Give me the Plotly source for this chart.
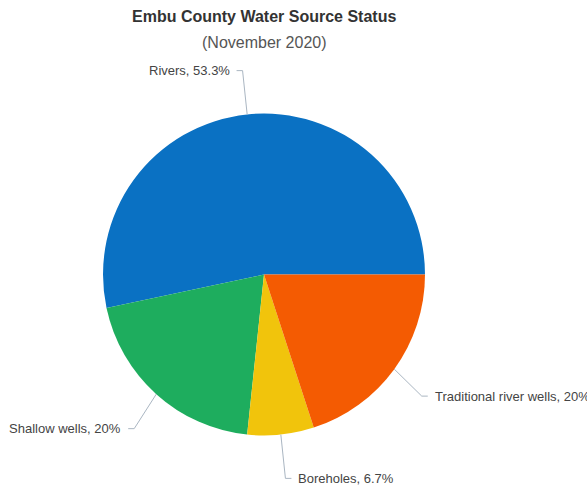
import math
import plotly.graph_objects as go

# ---- data ----
categories = ["Rivers", "Shallow wells", "Boreholes", "Traditional river wells"]
counts = [8, 3, 1, 3]
pct_labels = ["53.3%", "20%", "6.7%", "20%"]
colors = ["#0A71C3", "#1EAD5E", "#F1C40C", "#F45B02"]

title_text = "Embu County Water Source Status"
subtitle_text = "(November 2020)"

# ---- layout constants (pixels) ----
W, H = 587, 490
cx, cy, r = 264.0, 274.5, 161.0
bend_extra = [44.0, 33.0, 44.0, 34.0]   # radial distance of connector bend beyond rim
bend_dy = [0.0, 10.0, 0.0, 7.0]          # vertical nudge of label row
seg = 6.0
gap = 5.0
line_color = "#aab6c2"


def px(x):
    return x / W


def py(y):
    return 1 - y / H


total = sum(counts)
# first slice starts at 3 o'clock and runs counterclockwise;
# plotly's counterclockwise mode anchors the first slice's far edge at `rotation`
rotation = 90 - 360.0 * counts[0] / total

fig = go.Figure()
fig.add_trace(go.Pie(
    values=counts,
    labels=categories,
    sort=False,
    direction="counterclockwise",
    rotation=rotation,
    marker=dict(colors=colors, line=dict(width=0)),
    textinfo="none",
    hoverinfo="label+percent",
    showlegend=False,
    domain=dict(x=[px(cx - r), px(cx + r)], y=[py(cy + r), py(cy - r)]),
))

cum = 0.0
shapes = []
annotations = []
for cat, v, pl, be, dy in zip(categories, counts, pct_labels, bend_extra, bend_dy):
    mid = (cum + v / 2) / total * 2 * math.pi
    cum += v
    c, s = math.cos(mid), math.sin(mid)
    ex, ey = cx + r * c, cy - r * s
    bx, by = cx + (r + be) * c, cy - (r + be) * s + dy
    side = -1 if c < 0 else 1
    hx = bx + side * seg
    path = f"M {px(ex)} {py(ey)} L {px(bx)} {py(by)} L {px(hx)} {py(by)}"
    shapes.append(dict(type="path", path=path, xref="paper", yref="paper",
                       line=dict(color=line_color, width=1)))
    annotations.append(dict(
        x=px(hx + side * gap), y=py(by), xref="paper", yref="paper",
        text=f"{cat}, {pl}", showarrow=False,
        xanchor="right" if side < 0 else "left", yanchor="middle",
        font=dict(family="Liberation Sans, Arial, sans-serif", size=13, color="#444444"),
    ))

annotations.append(dict(
    x=px(cx), y=py(17), xref="paper", yref="paper", text=f"<b>{title_text}</b>",
    showarrow=False, xanchor="center", yanchor="middle",
    font=dict(family="Liberation Sans, Arial, sans-serif", size=16, color="#333333"),
))
annotations.append(dict(
    x=px(cx), y=py(42), xref="paper", yref="paper", text=subtitle_text,
    showarrow=False, xanchor="center", yanchor="middle",
    font=dict(family="Liberation Sans, Arial, sans-serif", size=16, color="#555555"),
))

fig.update_layout(
    width=W, height=H,
    margin=dict(l=0, r=0, t=0, b=0),
    paper_bgcolor="white", plot_bgcolor="white",
    shapes=shapes, annotations=annotations,
)

fig.write_html("out.html")
